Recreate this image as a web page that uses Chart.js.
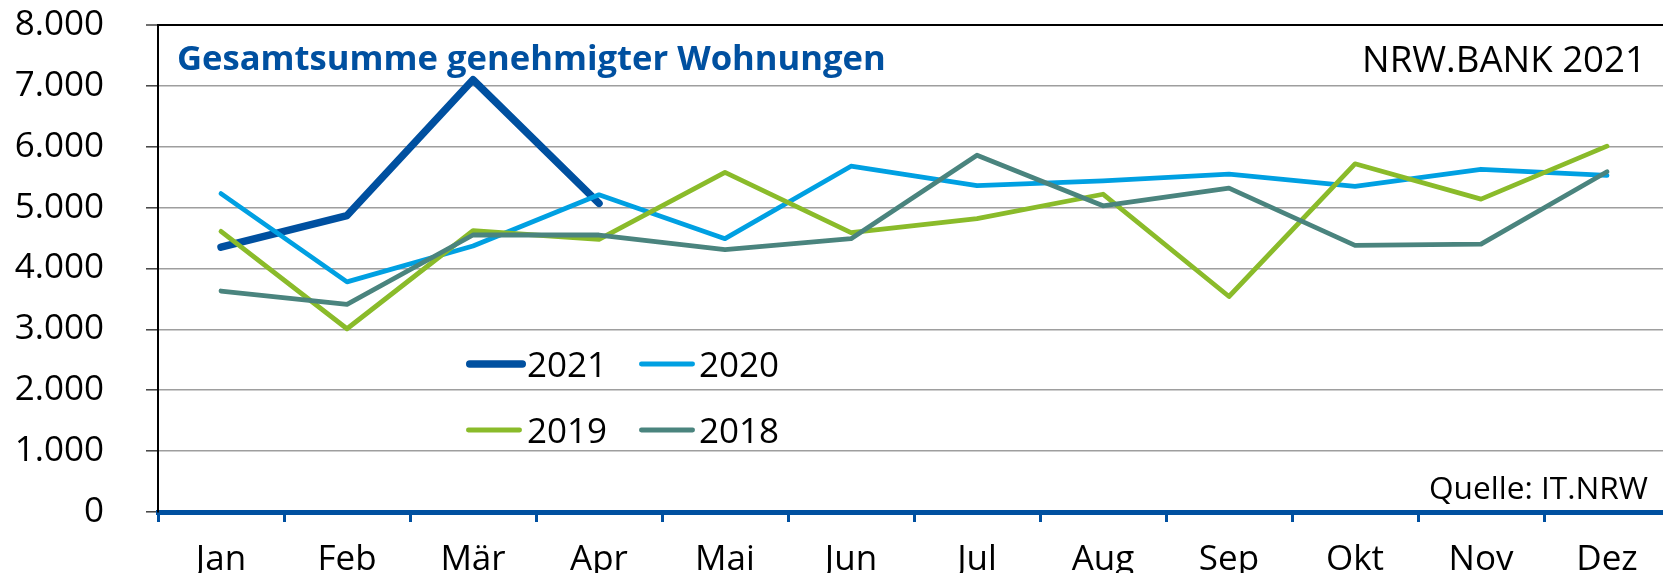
<!DOCTYPE html>
<html>
<head>
<meta charset="utf-8">
<script src="https://cdn.jsdelivr.net/npm/chart.js@4.4.1/dist/chart.umd.min.js"></script>
<style>
html,body{margin:0;padding:0;background:#fff;overflow:hidden;width:1663px;height:573px;}
#wrap{width:1663px;height:573px;overflow:hidden;position:relative;background:#fff;}
canvas{display:block;}
</style>
</head>
<body>
<div id="wrap"><canvas id="c" width="1672" height="600"></canvas></div>
<script>
// ---- data ----
const months = ['Jan','Feb','Mär','Apr','Mai','Jun','Jul','Aug','Sep','Okt','Nov','Dez'];
const yTickLabels = ['0','1.000','2.000','3.000','4.000','5.000','6.000','7.000','8.000'];
const seriesNames = ['2021','2020','2019','2018'];
const values2021 = [4350, 4870, 7100, 5070];
const values2020 = [5230, 3780, 4370, 5210, 4490, 5680, 5360, 5440, 5550, 5350, 5630, 5530];
const values2019 = [4610, 3010, 4620, 4480, 5580, 4590, 4820, 5220, 3540, 5720, 5140, 6010];
const values2018 = [3630, 3410, 4550, 4550, 4310, 4490, 5860, 5030, 5320, 4380, 4400, 5590];
const titleText = 'Gesamtsumme genehmigter Wohnungen';
const brandText = 'NRW.BANK 2021';
const sourceText = 'Quelle: IT.NRW';

// ---- style ----
const FONT = '"Open Sans", "Noto Sans", sans-serif';
const C2021 = '#0050a0', C2020 = '#00a0e2', C2019 = '#8abb2a', C2018 = '#4a847e';

function fitFont(ctx, text, weight, target) {
  ctx.font = weight + ' 100px ' + FONT;
  const w = ctx.measureText(text).width;
  return weight + ' ' + (100 * target / w).toFixed(2) + 'px ' + FONT;
}

const overlay = {
  id: 'overlay',
  afterDraw(chart) {
    const ctx = chart.ctx;
    ctx.save();
    ctx.textBaseline = 'alphabetic';
    // title
    ctx.fillStyle = C2021;
    ctx.textAlign = 'left';
    ctx.font = fitFont(ctx, titleText, 'bold', 709);
    ctx.fillText(titleText, 177, 70);
    // brand
    ctx.fillStyle = '#000';
    ctx.textAlign = 'right';
    ctx.font = fitFont(ctx, brandText, 'normal', 284);
    ctx.fillText(brandText, 1646, 72);
    // source
    ctx.font = fitFont(ctx, sourceText, 'normal', 219);
    ctx.fillText(sourceText, 1648, 499);
    // legend (2 x 2)
    const colX = [466, 639], textX = [527, 699], rowY = [364, 430];
    chart.data.datasets.forEach((ds, i) => {
      const c = i % 2, r = Math.floor(i / 2);
      const w = ds.borderWidth;
      const len = (w > 6) ? 60 : 56;
      ctx.strokeStyle = ds.borderColor;
      ctx.lineWidth = w;
      ctx.lineCap = 'round';
      ctx.beginPath();
      ctx.moveTo(colX[c] + w / 2, rowY[r]);
      ctx.lineTo(colX[c] + len - w / 2, rowY[r]);
      ctx.stroke();
      ctx.fillStyle = '#000';
      ctx.textAlign = 'left';
      ctx.font = 'normal 35px ' + FONT;
      ctx.fillText(ds.label, textX[c], rowY[r] + 13);
    });
    ctx.restore();
  }
};

function lineDs(label, data, color, width, order) {
  return {
    label, data, borderColor: color, backgroundColor: color, borderWidth: width,
    pointRadius: 0, pointHoverRadius: 0, tension: 0, fill: false,
    borderJoinStyle: 'round', borderCapStyle: 'round', order
  };
}

Chart.defaults.font.family = FONT;

new Chart(document.getElementById('c'), {
  type: 'line',
  data: {
    labels: months,
    datasets: [
      lineDs(seriesNames[0], values2021, C2021, 7.5, 4),
      lineDs(seriesNames[1], values2020, C2020, 4.8, 3),
      lineDs(seriesNames[2], values2019, C2019, 4.8, 2),
      lineDs(seriesNames[3], values2018, C2018, 4.8, 1)
    ]
  },
  options: {
    responsive: false,
    animation: false,
    devicePixelRatio: 1,
    layout: { padding: { top: 25, left: 0, right: 2, bottom: 0 } },
    plugins: { legend: { display: false }, tooltip: { enabled: false }, title: { display: false } },
    scales: {
      x: {
        offset: true,
        grid: {
          offset: true, drawOnChartArea: false, drawTicks: true,
          tickLength: 10, tickColor: C2021, tickWidth: 3
        },
        border: { display: true, color: C2021, width: 5 },
        ticks: { color: '#000', font: { size: 35 }, padding: 17, maxRotation: 0, autoSkip: false },
        afterFit(scale) { scale.height = 88; scale.paddingLeft = 0; scale.paddingRight = 0; }
      },
      y: {
        min: 0, max: 8000,
        ticks: {
          stepSize: 1000, color: '#000', font: { size: 35 }, padding: 42,
          callback: (v) => yTickLabels[Math.round(v / 1000)]
        },
        grid: {
          color: (c) => (c.tick && c.tick.value === 8000) ? '#000' : '#9e9e9e',
          lineWidth: (c) => (c.tick && c.tick.value === 8000) ? 2 : 1.6,
          tickColor: '#404040', tickWidth: 1.5, tickLength: 12, drawTicks: true
        },
        border: { display: true, color: '#000', width: 2 },
        afterFit(scale) { scale.width = 158; scale.paddingTop = 0; scale.paddingBottom = 0; }
      }
    }
  },
  plugins: [overlay]
});
</script>
</body>
</html>
